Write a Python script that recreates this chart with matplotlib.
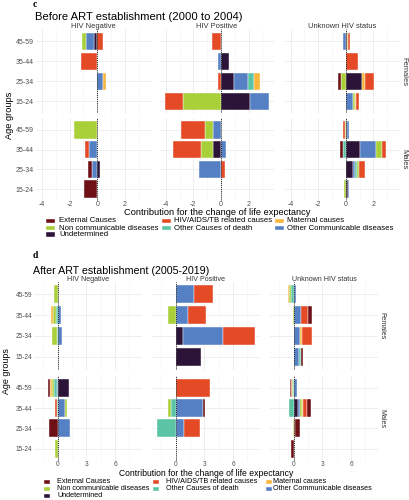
import numpy as np
import matplotlib
matplotlib.use("Agg")
import matplotlib.pyplot as plt
from matplotlib.patches import Rectangle

plt.rcParams['font.family'] = ['Liberation Sans', 'DejaVu Sans']

W, H = 409, 500

causes = ["External Causes", "HIV/AIDS/TB related causes", "Maternal causes",
          "Non communicable diseases", "Other Causes of death",
          "Other Communicable diseases", "Undetermined"]
cause_colors = ["#6d1117", "#e34a25", "#f8b73b", "#a9cf39", "#5bc4a5", "#5580c4", "#2c1438"]
# stacking order from zero outward (indices into causes)
stack_order = [6, 5, 4, 3, 2, 1, 0]

age_groups = ["45-59", "35-44", "25-34", "15-24"]
statuses = ["HIV Negative", "HIV Positive", "Unknown HIV status"]
sexes = ["Females", "Males"]

# values per facet: rows = age_groups, columns = causes
# ---- Before ART (2000 to 2004)
before_neg_f = [[0, 0.45, 0, -0.25, 0, -0.55, -0.27],
                [0, -1.18, 0, 0, 0, 0, 0],
                [0, 0, 0.21, 0, 0, 0.40, 0],
                [0, 0, 0, 0, 0, 0, 0]]
before_pos_f = [[0, -0.65, 0, 0, 0, 0, 0],
                [0, 0, 0, 0, 0, -0.24, 0.58],
                [0, -0.24, 0.43, 0, 0.46, 1.01, 0.92],
                [0, -1.33, 0, -2.73, 0, 1.40, 2.08]]
before_unk_f = [[0, 0.16, 0.06, 0, 0, -0.18, 0.08],
                [0, 0.90, 0, 0, 0, 0, 0],
                [-0.20, 0.63, 0.22, -0.38, 0, 0, 1.20],
                [0, 0.22, 0.10, 0.10, 0, 0.55, 0]]
before_neg_m = [[0, 0, 0, -1.67, 0, 0, 0],
                [0, -0.30, 0, 0, 0, -0.57, 0],
                [-0.28, 0, 0, 0, 0, -0.36, 0.20],
                [-0.94, 0, 0, 0, 0, 0, 0]]
before_pos_m = [[0, -1.74, 0, -0.56, 0, -0.56, 0],
                [0, -2.05, 0, -0.89, 0, 0.34, -0.56],
                [0, 0.30, 0, 0, 0, -1.62, 0],
                [0, 0, 0, 0, 0, 0, 0]]
before_unk_m = [[0, -0.15, 0, -0.05, 0, 0.12, 0.08],
                [-0.22, 0.27, 0, 0.48, -0.17, 1.11, 1.06],
                [0, 0.43, 0, 0.17, 0.10, 0.14, 0.56],
                [0, 0, 0, -0.14, 0, 0.07, 0.14]]
# ---- After ART (2005-2019)
after_neg_f = [[0, 0, 0, -0.35, 0, 0, 0],
               [0, 0, -0.22, -0.25, -0.20, 0.38, 0],
               [0, 0, 0, -0.50, -0.05, 0.47, 0],
               [0, 0, 0, 0, 0, 0, 0]]
after_pos_f = [[0, 1.94, 0, 0, 0, 1.94, 0],
               [0, 1.91, 0, -0.83, 0, 1.28, 0],
               [0, 3.30, 0, 0, 0, 4.17, 0.83],
               [0, 0, 0, 0, 0, 0, 2.67]]
after_unk_f = [[0, 0, -0.14, -0.12, -0.30, 0.28, 0],
               [0.40, 0.68, 0, -0.10, 0, 0.80, 0],
               [0, 1.10, 0.20, 0, 0, 0.68, 0],
               [0.20, 0.05, 0, 0, 0.15, 0.62, 0]]
after_neg_m = [[-0.15, -0.05, -0.15, -0.22, -0.30, -0.10, 1.25],
               [0, -0.20, 0, 0.20, -0.05, 0.75, 0],
               [-0.87, 0, 0, 0, 0, 1.30, 0],
               [0, 0, 0, -0.28, 0, 0, 0]]
after_pos_m = [[0, 3.60, 0, 0, 0, 0, 0],
               [0.20, 0, 0, -0.32, -0.42, 2.85, 0],
               [0, 1.67, 0, 0, -1.94, 0.90, 0],
               [0, 0, 0, 0, 0, 0, 0]]
after_unk_m = [[-0.12, -0.12, 0, -0.07, -0.05, 0.35, 0],
               [0.45, 0.35, 0.17, 0.17, -0.44, 0.24, 0.45],
               [0.52, 0.15, 0, -0.10, 0, 0, 0],
               [-0.22, 0, 0, 0, 0, 0, 0]]

before_title = "Before ART establishment (2000 to 2004)"
after_title = "After ART establishment (2005-2019)"
xlabel_text = "Contribution for the change of life expectancy"
ylabel_text = "Age groups"
before_ticks = [-4, -2, 0, 2]
before_minor = [-3, -1, 1, 3]
after_ticks = [0, 3, 6]
after_minor = [-1.5, 1.5, 4.5, 7.5]

fig = plt.figure(figsize=(W / 100, H / 100), dpi=100)
fig.patch.set_facecolor("white")


def fx(x):
    return x / W


def fy(y):
    return 1 - y / H


def axes_px(left, top, width, height):
    return fig.add_axes([left / W, 1 - (top + height) / H, width / W, height / H])


def data_limits(facets):
    lo, hi = 0.0, 0.0
    for f in facets:
        arr = np.array(f, dtype=float)
        pos = np.where(arr > 0, arr, 0).sum(axis=1)
        neg = np.where(arr < 0, arr, 0).sum(axis=1)
        lo = min(lo, neg.min())
        hi = max(hi, pos.max())
    span = hi - lo
    return lo - 0.05 * span, hi + 0.05 * span


def draw_facet(ax, rows, xlim, ticks, minor, show_x, show_y, fs_tick):
    ax.set_facecolor("white")
    for s in ax.spines.values():
        s.set_visible(False)
    ax.set_xlim(*xlim)
    ax.set_ylim(3.6, -0.6)
    ax.set_xticks(ticks)
    ax.set_xticks(minor, minor=True)
    ax.set_yticks(range(len(age_groups)))
    ax.grid(which="major", color="#ebebeb", lw=0.6)
    ax.grid(which="minor", axis="x", color="#f2f2f2", lw=0.4)
    ax.set_axisbelow(True)
    ax.tick_params(which="both", length=0, labelsize=fs_tick, colors="#4d4d4d")
    ax.tick_params(axis="x", pad=0.3)
    ax.tick_params(axis="y", pad=1.5)
    if show_x:
        ax.set_xticklabels([f"{t:g}" for t in ticks])
    else:
        ax.set_xticklabels([])
    if show_y:
        ax.set_yticklabels(age_groups)
    else:
        ax.set_yticklabels([])
    for i, vals in enumerate(rows):
        pos_left, neg_left = 0.0, 0.0
        for c in stack_order:
            v = vals[c]
            if v > 0:
                ax.barh(i, v, left=pos_left, height=0.88, color=cause_colors[c],
                        edgecolor="white", linewidth=0.3, zorder=2)
                pos_left += v
            elif v < 0:
                ax.barh(i, v, left=neg_left, height=0.88, color=cause_colors[c],
                        edgecolor="white", linewidth=0.3, zorder=2)
                neg_left += v
    ax.axvline(0, color="#222222", ls=(0, (1, 1)), lw=0.7, zorder=3)


def draw_block(facets, ticks, minor, lefts, width, tops, heights, fs_tick,
               strip_top_y, strip_right_x, fs_strip, xlabel_y, fs_xlabel, ylabel_x, fs_ylabel):
    xlim = data_limits([f for row in facets for f in row])
    for r, sex in enumerate(sexes):
        for c, status in enumerate(statuses):
            ax = axes_px(lefts[c], tops[r], width, heights[r])
            draw_facet(ax, facets[r][c], xlim, ticks, minor, r == 1, c == 0, fs_tick)
        fig.text(fx(strip_right_x), fy(tops[r] + heights[r] / 2), sex, rotation=270,
                 ha="center", va="center", fontsize=fs_strip, color="#333333")
    for c, status in enumerate(statuses):
        fig.text(fx(lefts[c] + width / 2), fy(strip_top_y), status, ha="center",
                 va="center", fontsize=fs_strip, color="#333333")
    fig.text(fx((lefts[0] + lefts[-1] + width) / 2), fy(xlabel_y), xlabel_text,
             ha="center", va="center", fontsize=fs_xlabel, color="black")
    fig.text(fx(ylabel_x), fy((tops[0] + tops[1] + heights[1]) / 2), ylabel_text,
             rotation=90, ha="center", va="center", fontsize=fs_ylabel, color="black")


def draw_legend(col_key_x, col_text_x, row_y, key_w, key_h, fs):
    for k, (name, col) in enumerate(zip(causes, cause_colors)):
        r, c = divmod(k, 3)
        kx, ky = col_key_x[c], row_y[r]
        fig.add_artist(Rectangle((fx(kx), fy(ky + key_h / 2)), key_w / W, key_h / H,
                                 transform=fig.transFigure, facecolor=col,
                                 edgecolor="white", linewidth=0.3))
        fig.text(fx(col_text_x[c]), fy(ky), name, ha="left", va="center",
                 fontsize=fs, color="black")


# ---------------- Panel c ----------------
fig.text(fx(35), fy(4.5), "c", fontsize=7, fontweight="bold", family="Liberation Serif",
         ha="center", va="center")
fig.text(fx(35), fy(17.3), before_title, fontsize=8.1, ha="left", va="center")
before_facets = [[before_neg_f, before_pos_f, before_unk_f],
                 [before_neg_m, before_pos_m, before_unk_m]]
draw_block(before_facets, before_ticks, before_minor,
           lefts=[36, 159.7, 284.5], width=114.5, tops=[29.3, 118], heights=[84, 83],
           fs_tick=5.0, strip_top_y=26, strip_right_x=403.5, fs_strip=5.4,
           xlabel_y=212.8, fs_xlabel=6.7, ylabel_x=10, fs_ylabel=6.7)
draw_legend(col_key_x=[46, 162, 275], col_text_x=[59, 174, 287],
            row_y=[221, 228, 234.7], key_w=9, key_h=4.5, fs=5.6)

# ---------------- Panel d ----------------
fig.text(fx(35), fy(255), "d", fontsize=7, fontweight="bold", family="Liberation Serif",
         ha="center", va="center")
fig.text(fx(33), fy(270.7), after_title, fontsize=7.7, ha="left", va="center")
after_facets = [[after_neg_f, after_pos_f, after_unk_f],
                [after_neg_m, after_pos_m, after_unk_m]]
draw_block(after_facets, after_ticks, after_minor,
           lefts=[34, 152, 270], width=108, tops=[281.5, 375.5], heights=[88, 85.5],
           fs_tick=4.7, strip_top_y=279.3, strip_right_x=382, fs_strip=5.1,
           xlabel_y=473.6, fs_xlabel=6.2, ylabel_x=7, fs_ylabel=6.4)
draw_legend(col_key_x=[44.3, 153, 265.7], col_text_x=[57, 165.7, 273.3],
            row_y=[481.8, 488.8, 495.8], key_w=6, key_h=4.3, fs=5.2)

fig.savefig("out.png", dpi=100, facecolor="white")
